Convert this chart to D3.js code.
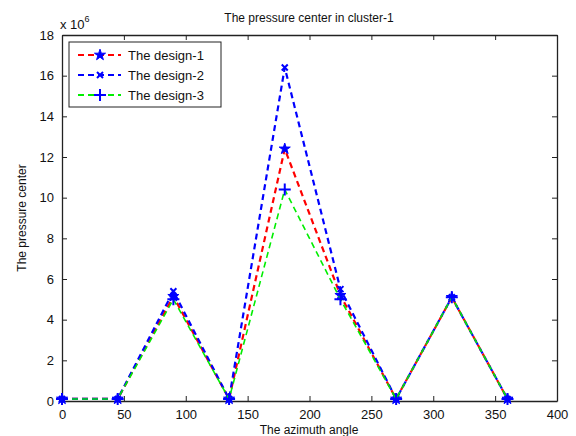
<!DOCTYPE html>
<html>
<head>
<meta charset="utf-8">
<script src="https://cdn.jsdelivr.net/npm/d3@7"></script>
<style>
body { margin: 0; background: #fff; }
text { font-family: "Liberation Sans", Arial, sans-serif; fill: #111; }
</style>
</head>
<body>
<svg width="576" height="436"></svg>
<script>
var angles = [0, 45, 90, 135, 180, 225, 270, 315, 360];
var design1 = [0.1, 0.1, 5.15, 0.1, 12.4, 5.2, 0.1, 5.1, 0.1];
var design2 = [0.1, 0.1, 5.4, 0.1, 16.4, 5.5, 0.1, 5.1, 0.1];
var design3 = [0.1, 0.1, 5.0, 0.1, 10.4, 5.0, 0.1, 5.1, 0.1];
var seriesNames = ["The design-1", "The design-2", "The design-3"];
var xTicks = [0, 50, 100, 150, 200, 250, 300, 350, 400];
var yTicks = [0, 2, 4, 6, 8, 10, 12, 14, 16, 18];

function main() {
    var svg = d3.select("svg");
    var left = 62, right = 557, top = 35, bottom = 401;

    var x = d3.scaleLinear().domain([0, 400]).range([left, right]);
    var y = d3.scaleLinear().domain([0, 18]).range([bottom, top]);

    svg.append("text")
        .attr("x", 309).attr("y", 22)
        .attr("text-anchor", "middle")
        .attr("font-size", "12px")
        .text("The pressure center in cluster-1");

    // axes box with inward ticks
    var g = svg.append("g");
    g.append("g").attr("transform", "translate(0," + bottom + ")")
        .call(d3.axisBottom(x).tickValues(xTicks).tickSizeInner(-5).tickSizeOuter(0).tickPadding(9));
    g.append("g").attr("transform", "translate(0," + top + ")")
        .call(d3.axisTop(x).tickValues(xTicks).tickSizeInner(-5).tickSizeOuter(0).tickFormat(""));
    g.append("g").attr("transform", "translate(" + left + ",0)")
        .call(d3.axisLeft(y).tickValues(yTicks).tickSizeInner(-5).tickSizeOuter(0).tickPadding(8));
    g.append("g").attr("transform", "translate(" + right + ",0)")
        .call(d3.axisRight(y).tickValues(yTicks).tickSizeInner(-5).tickSizeOuter(0).tickFormat(""));
    g.selectAll(".domain").attr("stroke", "#222").attr("stroke-width", 1.3);
    g.selectAll(".tick line").attr("stroke", "#222");
    g.selectAll(".tick text").attr("font-size", "13px")
        .attr("font-family", "Liberation Sans, Arial, sans-serif").attr("fill", "#111");

    // exponent
    var ex = svg.append("text").attr("x", 60).attr("y", 29).attr("font-size", "13px");
    ex.append("tspan").text("x 10");
    ex.append("tspan").attr("dy", -7).attr("font-size", "9px").text("6");

    svg.append("text")
        .attr("transform", "translate(26," + ((top + bottom) / 2) + ") rotate(-90)")
        .attr("text-anchor", "middle")
        .attr("font-size", "12px")
        .text("The pressure center");

    svg.append("text")
        .attr("x", 309).attr("y", 434)
        .attr("text-anchor", "middle")
        .attr("font-size", "12px")
        .text("The azimuth angle");

    var series = [
        {name: seriesNames[0], values: design1, color: "#ff0000", marker: "star", width: 2.2},
        {name: seriesNames[1], values: design2, color: "#0000ff", marker: "x", width: 2.2},
        {name: seriesNames[2], values: design3, color: "#00ee00", marker: "plus", width: 1.6}
    ];

    var line = d3.line().x(function(d){ return x(d[0]); }).y(function(d){ return y(d[1]); });

    function drawMarker(sel, type) {
        if (type === "star") {
            sel.append("path").attr("d", d3.symbol().type(d3.symbolStar).size(38))
                .attr("fill", "#0000ff").attr("stroke", "#0000ff").attr("stroke-width", 1);
        } else if (type === "x") {
            sel.append("path").attr("d", "M-3,-3L3,3M-3,3L3,-3")
                .attr("stroke", "#0000ff").attr("stroke-width", 2).attr("fill", "none");
        } else {
            sel.append("path").attr("d", "M-6,0L6,0M0,-6L0,6")
                .attr("stroke", "#0000ff").attr("stroke-width", 2).attr("fill", "none");
        }
    }

    var plot = svg.append("g");
    series.forEach(function(s) {
        var pts = angles.map(function(a, i){ return [a, s.values[i]]; });
        plot.append("path").datum(pts)
            .attr("d", line)
            .attr("fill", "none")
            .attr("stroke", s.color)
            .attr("stroke-width", s.width)
            .attr("stroke-dasharray", "6,4");
        plot.selectAll(null).data(pts).enter().append("g")
            .attr("transform", function(d){ return "translate(" + x(d[0]) + "," + y(d[1]) + ")"; })
            .each(function(){ drawMarker(d3.select(this), s.marker); });
    });

    // legend
    var lg = svg.append("g");
    lg.append("rect").attr("x", 69).attr("y", 42).attr("width", 152).attr("height", 65)
        .attr("fill", "#fff").attr("stroke", "#222").attr("stroke-width", 1);
    series.forEach(function(s, i) {
        var ly = 55 + i * 20;
        lg.append("line").attr("x1", 78).attr("x2", 121).attr("y1", ly).attr("y2", ly)
            .attr("stroke", s.color).attr("stroke-width", 2).attr("stroke-dasharray", "6,4");
        var m = lg.append("g").attr("transform", "translate(100," + ly + ")");
        drawMarker(m, s.marker);
        lg.append("text").attr("x", 128).attr("y", ly + 4.5)
            .attr("font-size", "13px").text(s.name);
    });
}

main();
</script>
</body>
</html>
